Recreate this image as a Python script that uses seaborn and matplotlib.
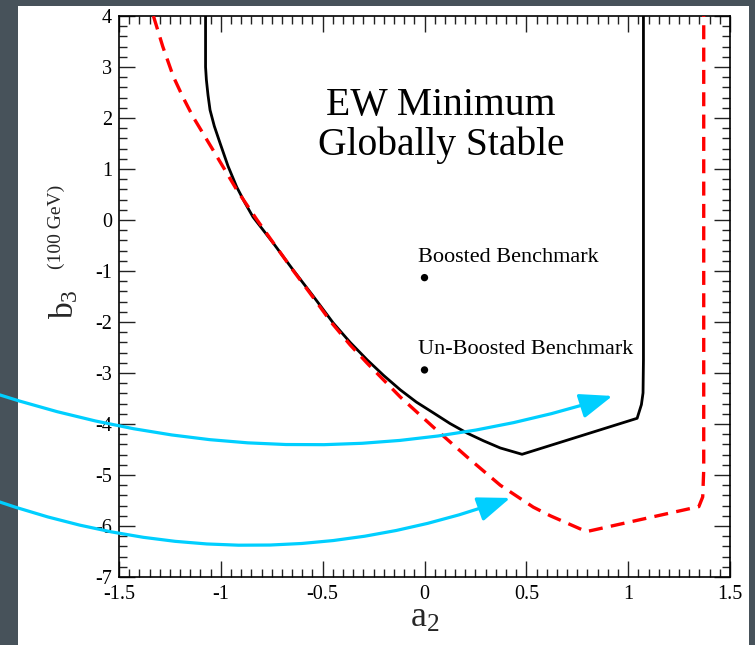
import matplotlib
matplotlib.use("Agg")
import matplotlib.pyplot as plt
from matplotlib.patches import Rectangle
from matplotlib.ticker import MultipleLocator, FuncFormatter
import pandas as pd
import seaborn as sns

# Boundary of the region where the EW minimum is the global minimum (solid)
a2_stable = [-1.075, -1.075, -1.071, -1.063, -1.053, -1.032, -1.004, -0.965,
             -0.922, -0.882, -0.842, -0.743, -0.645, -0.547, -0.448, -0.365,
             -0.281, -0.200, -0.119, -0.040, 0.043, 0.125, 0.210, 0.290,
             0.372, 0.479, 1.044, 1.065, 1.073, 1.075, 1.075]
b3_stable = [4.0, 3.0, 2.75, 2.45, 2.157, 1.84, 1.51, 1.06,
             0.647, 0.34, 0.059, -0.451, -0.98, -1.49, -2.02, -2.40,
             -2.745, -3.05, -3.33, -3.57, -3.78, -3.99, -4.18, -4.33,
             -4.47, -4.594, -3.888, -3.62, -3.39, -2.745, 4.0]

# Boundary of the boosted region (dashed)
a2_boost = [-1.331, -1.285, -1.233, -1.185, -1.136, -1.038, -0.920, -0.822,
            -0.742, -0.645, -0.550, -0.455, -0.365, -0.281, -0.119, 0.043,
            0.210, 0.372, 0.534, 0.618, 0.795, 1.347, 1.366, 1.371, 1.371]
b3_boost = [4.0, 3.4, 2.81, 2.40, 2.02, 1.37, 0.58, 0.0,
            -0.45, -0.99, -1.50, -2.02, -2.45, -2.81, -3.47, -4.06,
            -4.65, -5.20, -5.63, -5.80, -6.11, -5.62, -5.43, -4.9, 4.0]

# Benchmark points
bench_names = ["Boosted Benchmark", "Un-Boosted Benchmark"]
bench_a2 = [0.0, 0.0]
bench_b3 = [-1.13, -2.94]

# Arrows sweeping in from the left edge (start, end, curvature)
arrow_starts = [(-2.085, -3.43), (-2.085, -5.53)]
arrow_ends = [(0.923, -3.45), (0.421, -5.45)]
arrow_rads = [0.16, 0.176]

sns.set_theme(style="ticks")
plt.rcParams["font.family"] = ["Liberation Serif", "DejaVu Serif"]
plt.rcParams["mathtext.fontset"] = "custom"
plt.rcParams["mathtext.rm"] = "Liberation Serif"
plt.rcParams["mathtext.it"] = "Liberation Serif:italic"
plt.rcParams["axes.unicode_minus"] = False

W, H = 755, 645
fig = plt.figure(figsize=(W / 100, H / 100), dpi=100, facecolor="#47525a")
fig.patches.append(Rectangle((18 / W, 0), (749 - 18) / W, (H - 6) / H,
                             transform=fig.transFigure, facecolor="white",
                             edgecolor="none", zorder=-1))
ax = fig.add_axes([119 / W, 1 - 577 / H, (730 - 119) / W, (577 - 16) / H])
ax.set_facecolor("white")

stable_df = pd.DataFrame({"a2": a2_stable, "b3": b3_stable})
boost_df = pd.DataFrame({"a2": a2_boost, "b3": b3_boost})
bench_df = pd.DataFrame({"a2": bench_a2, "b3": bench_b3, "name": bench_names})

sns.lineplot(data=boost_df, x="a2", y="b3", sort=False, estimator=None,
             color="#ff0000", lw=2.4, ax=ax, zorder=3)
ax.lines[-1].set_dashes((4.2, 2.5))
ax.lines[-1].set_solid_joinstyle("round")
sns.lineplot(data=stable_df, x="a2", y="b3", sort=False, estimator=None,
             color="black", lw=2.0, ax=ax, zorder=2)
ax.lines[-1].set_solid_joinstyle("round")
sns.scatterplot(data=bench_df, x="a2", y="b3", color="black", s=28,
                edgecolor="none", ax=ax, zorder=4)
for name, a, b in zip(bench_names, bench_a2, bench_b3):
    ax.text(a - 0.031, b + 0.31, name, fontsize=16, ha="left",
            va="baseline", color="black")

ax.text(0.082, 1.86, "EW Minimum\nGlobally Stable", fontsize=28.5,
        ha="center", va="center", linespacing=1.08, color="black")

cyan = "#00cfff"
for (x0, y0), (x1, y1), rad in zip(arrow_starts, arrow_ends, arrow_rads):
    ax.annotate("", xy=(x1, y1), xytext=(x0, y0), xycoords="data",
                textcoords="data", annotation_clip=False,
                arrowprops=dict(arrowstyle="-|>,head_length=1.0,head_width=0.38",
                                connectionstyle=f"arc3,rad={rad}",
                                color=cyan, lw=2.3, mutation_scale=20,
                                shrinkA=0, shrinkB=0),
                zorder=5)

ax.set_xlim(-1.5, 1.5)
ax.set_ylim(-7, 4)
ax.xaxis.set_major_locator(MultipleLocator(0.5))
ax.xaxis.set_minor_locator(MultipleLocator(0.05))
ax.yaxis.set_major_locator(MultipleLocator(1))
ax.yaxis.set_minor_locator(MultipleLocator(0.2))
fmt = FuncFormatter(lambda v, p: f"{v:g}")
ax.xaxis.set_major_formatter(fmt)
ax.yaxis.set_major_formatter(fmt)
ax.tick_params(which="both", direction="in", top=True, right=True,
               color="#222222", labelsize=14.5, labelcolor="black")
ax.tick_params(which="major", length=11.5, width=1.0)
ax.tick_params(which="minor", length=5.8, width=1.0)
ax.tick_params(axis="x", which="major", pad=5.5)
ax.tick_params(axis="y", which="major", pad=5)
for sp in ax.spines.values():
    sp.set_visible(True)
    sp.set_linewidth(1.2)
    sp.set_color("black")

ax.set_xlabel("")
ax.set_ylabel("")
ax.text(0.5008, -0.074, r"$\mathrm{a}_2$", transform=ax.transAxes,
        fontsize=26, ha="center", va="center")
# y label: b_3 with the unit raised beside it
fig.text(64 / W, 1 - 304 / H, r"$\mathrm{b}_3$", fontsize=24,
         ha="center", va="center", rotation=90)
fig.text(56 / W, 1 - 227 / H, "(100 GeV)", fontsize=14,
         ha="center", va="center", rotation=90)

fig.savefig("out.png", dpi=100, facecolor=fig.get_facecolor())
